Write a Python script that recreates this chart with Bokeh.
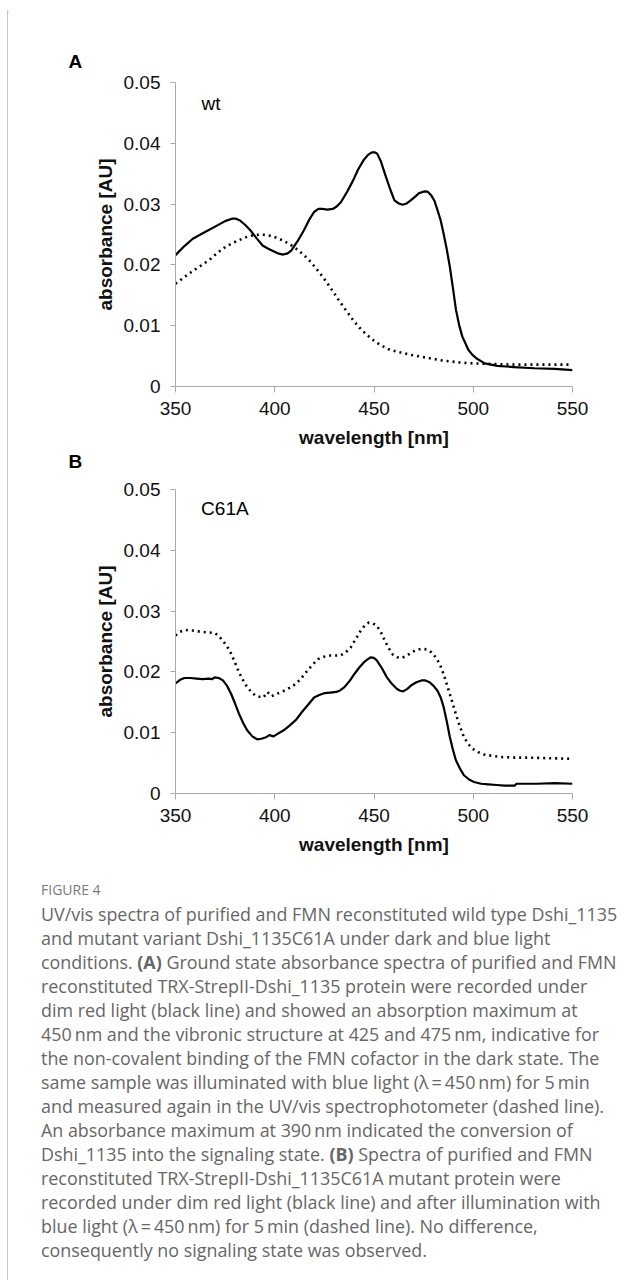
from bokeh.plotting import figure
from bokeh.layouts import column, row
from bokeh.models import Div, Label, Range1d, FixedTicker, CustomJSTickFormatter, Title
from bokeh.embed import file_html
from bokeh.resources import INLINE

# ---------------- data ----------------
wt_dark_nm = [350, 354.5, 358.7, 364.9, 371.1, 375.0, 378.4, 380.5, 382.5, 385.0, 387.7, 390.8,
              393.9, 396.5, 399.1, 401.5, 404.3, 406.5, 408.4, 411.5, 414.7, 417.3, 419.8, 422.0,
              424.0, 426.5, 429.2, 431.2, 433.3, 436.4, 439.5, 442.0, 444.7, 447.0, 448.9, 450.5,
              451.6, 453.5, 456.1, 458.2, 460.3, 462.5, 464.4, 466.5, 468.5, 470.6, 472.7, 474.5,
              475.8, 477.2, 478.9, 480.5, 482.0, 483.6, 485.1, 486.7, 488.2, 489.8, 491.3, 492.9,
              494.5, 497.6, 499.6, 501.7, 505.8, 512.1, 520.4, 530.7, 541.1, 550]
wt_dark_abs = [0.0216, 0.0231, 0.0243, 0.0254, 0.0265, 0.0272, 0.0276, 0.0276, 0.0273, 0.0266,
               0.0257, 0.0244, 0.0232, 0.0227, 0.0223, 0.0219, 0.0217, 0.0219, 0.0224, 0.0239,
               0.0257, 0.0274, 0.0287, 0.0292, 0.0292, 0.0291, 0.0292, 0.0296, 0.0303, 0.0320,
               0.0339, 0.0357, 0.0372, 0.0381, 0.0385, 0.0385, 0.0383, 0.0370, 0.0344, 0.0324,
               0.0306, 0.0301, 0.0299, 0.0301, 0.0306, 0.0312, 0.0318, 0.0320, 0.0321, 0.0320,
               0.0314, 0.0305, 0.0290, 0.0273, 0.0251, 0.0225, 0.0197, 0.0161, 0.0126, 0.0101,
               0.0082, 0.0060, 0.0052, 0.0046, 0.0038, 0.0034, 0.0032, 0.0030, 0.0029, 0.0027]

wt_light_nm = [350, 354.5, 358.7, 362.9, 367, 371.2, 375.3, 379.5, 383.6, 386.7, 389.8, 392.9,
               396, 399.1, 402.2, 405.3, 408.4, 411.5, 414.7, 417.8, 420.9, 424.0, 427.1, 430.2,
               433.3, 436.4, 439.5, 442.6, 445.7, 448.9, 452, 455.1, 458.2, 463.4, 468.5, 473.7,
               478.9, 484.1, 489.3, 494.5, 499.6, 510, 520.4, 530.7, 550]
wt_light_abs = [0.0169, 0.0180, 0.0190, 0.0199, 0.0208, 0.0220, 0.0230, 0.0237, 0.0243, 0.0247,
                0.0249, 0.0250, 0.0249, 0.0247, 0.0243, 0.0238, 0.0232, 0.0225, 0.0216, 0.0206,
                0.0194, 0.0181, 0.0167, 0.0152, 0.0137, 0.0123, 0.0109, 0.0097, 0.0087, 0.0078,
                0.0071, 0.0065, 0.0060, 0.0056, 0.0052, 0.0049, 0.0046, 0.0043, 0.0041, 0.0039,
                0.0038, 0.0037, 0.0036, 0.0036, 0.0036]

mut_dark_nm = [350, 352.3, 354.5, 357.6, 360.6, 363.7, 366.7, 368.3, 369.8, 371.8, 373.9, 376.0,
               378, 380.0, 382, 384.1, 386.1, 388.7, 391.2, 393.2, 395.3, 397.3, 399.4, 401.4,
               404.5, 407.6, 410.7, 413.7, 416.8, 419.8, 422.4, 424.9, 428.0, 431, 433.1, 435.1,
               437.7, 440.2, 442.8, 445.3, 446.9, 448.4, 449.9, 451.4, 454.0, 456.5, 459.1, 461.6,
               463.2, 464.7, 466.8, 468.8, 471.4, 473.9, 475.9, 478, 480.0, 482, 483.6, 485.1,
               486.7, 488.2, 489.7, 491.2, 493.3, 495.3, 497.9, 500.4, 504.0, 507.6, 511.7, 515.7,
               520.8, 521.8, 532, 541, 550]
mut_dark_abs = [0.0181, 0.0187, 0.0190, 0.0190, 0.0189, 0.0188, 0.0189, 0.0188, 0.0191, 0.0190,
                0.0186, 0.0177, 0.0164, 0.0148, 0.0131, 0.0116, 0.0104, 0.0094, 0.0089, 0.0090,
                0.0092, 0.0096, 0.0094, 0.0098, 0.0104, 0.0112, 0.0121, 0.0134, 0.0146, 0.0158,
                0.0162, 0.0165, 0.0166, 0.0167, 0.0170, 0.0175, 0.0185, 0.0197, 0.0208, 0.0217,
                0.0221, 0.0224, 0.0223, 0.0219, 0.0206, 0.0191, 0.0180, 0.0172, 0.0169, 0.0168,
                0.0172, 0.0178, 0.0183, 0.0186, 0.0186, 0.0183, 0.0177, 0.0169, 0.0158, 0.0142,
                0.0118, 0.0093, 0.0073, 0.0055, 0.0041, 0.0030, 0.0023, 0.0019, 0.0016, 0.0015,
                0.0014, 0.0013, 0.0013, 0.0016, 0.0016, 0.0017, 0.0016]

mut_light_nm = [350, 352.3, 354.5, 358.6, 362.7, 366.3, 369.8, 371.8, 373.9, 376.0, 378, 380.0,
                382, 384.1, 386.1, 388.2, 390.2, 392.3, 394.3, 396.3, 398.4, 401.0, 403.5, 406.6,
                409.6, 412.7, 415.7, 418.8, 421.8, 424.9, 428, 430.6, 433.1, 435.7, 438.2, 440.8,
                443.3, 445.3, 447.3, 449.4, 451.4, 453.5, 455.5, 457.6, 459.6, 461.7, 463.7, 466.3,
                468.8, 471.4, 473.9, 476.5, 479, 481.1, 483.1, 485.1, 487.1, 489.2, 491.2, 493.3,
                495.3, 497.4, 499.4, 502.5, 505.5, 509.6, 513.7, 520.9, 528, 539, 550]
mut_light_abs = [0.0260, 0.0266, 0.0269, 0.0268, 0.0266, 0.0265, 0.0264, 0.0259, 0.0251, 0.0242,
                 0.0230, 0.0215, 0.0199, 0.0186, 0.0175, 0.0167, 0.0161, 0.0159, 0.0158, 0.0167,
                 0.0160, 0.0164, 0.0167, 0.0172, 0.0178, 0.0187, 0.0199, 0.0211, 0.0221, 0.0225,
                 0.0227, 0.0227, 0.0227, 0.0232, 0.0240, 0.0254, 0.0268, 0.0276, 0.0281, 0.0280,
                 0.0276, 0.0265, 0.0251, 0.0238, 0.0228, 0.0224, 0.0223, 0.0226, 0.0232, 0.0236,
                 0.0238, 0.0237, 0.0232, 0.0224, 0.0213, 0.0196, 0.0175, 0.0153, 0.0131, 0.0110,
                 0.0093, 0.0082, 0.0074, 0.0068, 0.0064, 0.0062, 0.0060, 0.0059, 0.0059, 0.0058,
                 0.0057]

x_ticks = [350, 400, 450, 500, 550]
y_ticks = [0, 0.01, 0.02, 0.03, 0.04, 0.05]
x_label = "wavelength [nm]"
y_label = "absorbance [AU]"
panel_letters = ["A", "B"]
panel_names = ["wt", "C61A"]

caption_title = "FIGURE 4"
caption_lines = [
    "UV/vis spectra of purified and FMN reconstituted wild type Dshi_1135",
    "and mutant variant Dshi_1135C61A under dark and blue light",
    "conditions. <b>(A)</b> Ground state absorbance spectra of purified and FMN",
    "reconstituted TRX-StrepII-Dshi_1135 protein were recorded under",
    "dim red light (black line) and showed an absorption maximum at",
    "450&#8201;nm and the vibronic structure at 425 and 475&#8201;nm, indicative for",
    "the non-covalent binding of the FMN cofactor in the dark state. The",
    "same sample was illuminated with blue light (&lambda;&#8201;=&#8201;450&#8201;nm) for 5&#8201;min",
    "and measured again in the UV/vis spectrophotometer (dashed line).",
    "An absorbance maximum at 390&#8201;nm indicated the conversion of",
    "Dshi_1135 into the signaling state. <b>(B)</b> Spectra of purified and FMN",
    "reconstituted TRX-StrepII-Dshi_1135C61A mutant protein were",
    "recorded under dim red light (black line) and after illumination with",
    "blue light (&lambda;&#8201;=&#8201;450&#8201;nm) for 5&#8201;min (dashed line). No difference,",
    "consequently no signaling state was observed.",
]

FONT = "Liberation Sans"
AXIS_GRAY = "#a9a9a9"
FRAME_GRAY = "#c4c4c4"


def style_title(t, standoff, valign):
    t.text_font = FONT
    t.text_font_size = "19px"
    t.text_font_style = "bold"
    t.text_color = "black"
    t.align = "left"
    t.offset = -107
    t.standoff = standoff
    t.vertical_align = valign


def make_panel(width, height, mb_left, mb_right, mb_top, mb_bottom):
    p = figure(width=width, height=height, output_backend="svg", toolbar_location=None,
               x_range=Range1d(350, 550), y_range=Range1d(0, 0.05),
               min_border_left=mb_left, min_border_right=mb_right,
               min_border_top=mb_top, min_border_bottom=mb_bottom)
    p.outline_line_color = None
    p.grid.visible = False
    p.background_fill_color = "white"
    p.border_fill_color = "white"
    for ax in (p.xaxis[0], p.yaxis[0]):
        ax.axis_line_color = AXIS_GRAY
        ax.major_tick_line_color = AXIS_GRAY
        ax.minor_tick_line_color = None
        ax.major_tick_in = 0
        ax.major_label_text_font = FONT
        ax.major_label_text_font_size = "19px"
        ax.major_label_text_color = "#111111"
        ax.axis_label_text_font = FONT
        ax.axis_label_text_font_size = "19px"
        ax.axis_label_text_font_style = "bold"
        ax.axis_label_text_color = "#111111"
    p.xaxis.ticker = FixedTicker(ticks=x_ticks)
    p.yaxis.ticker = FixedTicker(ticks=y_ticks)
    p.yaxis.formatter = CustomJSTickFormatter(code="return tick == 0 ? '0' : tick.toFixed(2);")
    p.xaxis.major_tick_out = 6
    p.yaxis.major_tick_out = 5
    p.xaxis.major_label_standoff = 9
    p.yaxis.major_label_standoff = 10
    p.xaxis.axis_label = x_label
    p.yaxis.axis_label = y_label
    p.xaxis.axis_label_standoff = 9
    p.yaxis.axis_label_standoff = 5
    return p


def add_text(p, x, y, txt):
    p.add_layout(Label(x=x, y=y, text=txt, text_font=FONT, text_font_size="19px",
                       text_baseline="middle", text_align="left", text_color="black"))


# panel A (its lower margin also carries the letter of panel B)
pA = make_panel(628, 466, 167, 64, 72, 90)
pA.title.text = panel_letters[0]
style_title(pA.title, 22, "bottom")
letter_b = Title(text=panel_letters[1])
style_title(letter_b, 0, "top")
pA.add_layout(letter_b, "below")
pA.line(wt_dark_nm, wt_dark_abs, line_color="black", line_width=2.2, line_join="round")
pA.line(wt_light_nm, wt_light_abs, line_color="black", line_width=2.6, line_dash="2 4")
add_text(pA, 363.1, 0.0466, panel_names[0])

# panel B
pB = make_panel(628, 386, 167, 58, 13, 69)
pB.line(mut_dark_nm, mut_dark_abs, line_color="black", line_width=2.2, line_join="round")
pB.line(mut_light_nm, mut_light_abs, line_color="black", line_width=2.6, line_dash="2 4")
add_text(pB, 362.9, 0.0469, panel_names[1])

html = (
    "<div style=\"font-family:'Open Sans',sans-serif; padding-left:33px; padding-top:16px;\">"
    "<div style='font-size:14px; line-height:24px; color:#7a7a7a;'>" + caption_title + "</div>"
    "<div style='font-size:17.9px; line-height:24px; color:#666666; white-space:nowrap;'>"
    + "<br>".join(caption_lines) + "</div></div>"
)
cap = Div(text=html, width=628, height=400, margin=0)

# thin grey frame (top and left edges) around the figure, as in the reference
top_line = Div(width=636, height=10, margin=0,
               text=("<div style='padding-top:9px;padding-left:7px;line-height:0;font-size:0'>"
                     "<div style='height:1px;width:629px;background:%s'></div></div>") % FRAME_GRAY)
left_line = Div(width=8, height=1270, margin=0,
                text=("<div style='padding-left:7px;line-height:0;font-size:0'>"
                      "<div style='width:1px;height:1270px;background:%s'></div></div>") % FRAME_GRAY)

layout = column(top_line, row(left_line, column(pA, pB, cap, spacing=0), spacing=0), spacing=0)

open("out.html", "w").write(file_html(layout, INLINE))
